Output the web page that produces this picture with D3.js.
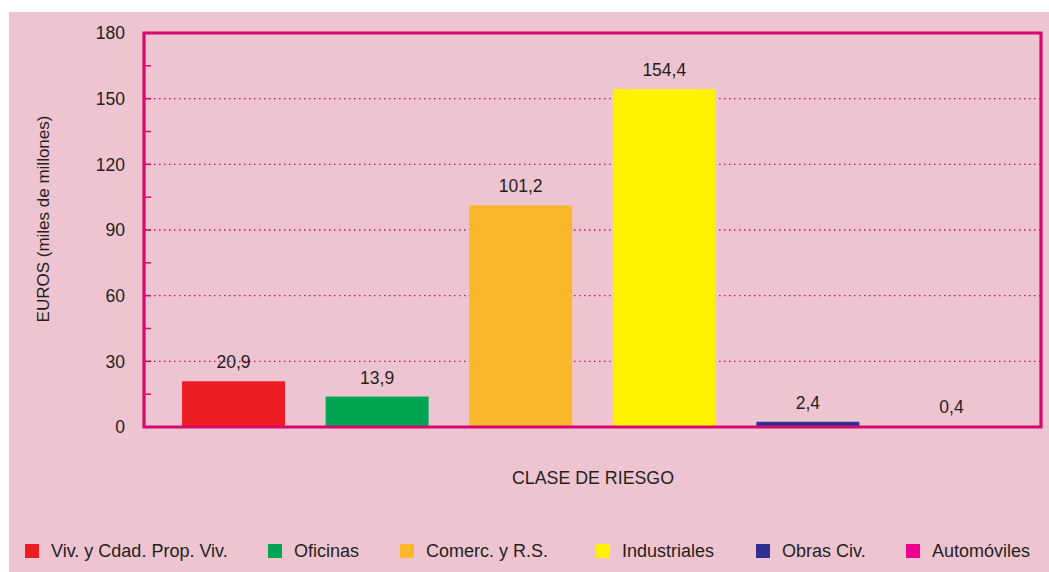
<!DOCTYPE html>
<html><head><meta charset="utf-8">
<script src="https://cdn.jsdelivr.net/npm/d3@7"></script>
<style>
html,body{margin:0;padding:0;background:#fff;}
svg{display:block;}
text{font-family:"Liberation Sans",Arial,Helvetica,sans-serif;fill:#231f20;}
</style></head>
<body>
<script>
const categories = ["Viv. y Cdad. Prop. Viv.", "Oficinas", "Comerc. y R.S.", "Industriales", "Obras Civ.", "Automóviles"];
const values = [20.9, 13.9, 101.2, 154.4, 2.4, 0.4];
const valueLabels = ["20,9", "13,9", "101,2", "154,4", "2,4", "0,4"];
const colors = ["#ee1c25", "#00a551", "#fbb72c", "#fff200", "#2e3192", "#ec008c"];
const yTicks = [0, 30, 60, 90, 120, 150, 180];
const yMinorTicks = [15, 45, 75, 105, 135, 165];

(function () {
const W = 1049, H = 572;
const svg = d3.select("body").append("svg").attr("width", W).attr("height", H);
svg.append("rect").attr("x", 9).attr("y", 12).attr("width", W - 9).attr("height", H - 12).attr("fill", "#eec4d0");

const pL = 144, pR = 1041, pT = 33, pB = 427;
const axisColor = "#d4096f";

const x = d3.scaleBand().domain(categories).range([pL, pR]).paddingInner(0.283).paddingOuter(0.265);
const y = d3.scaleLinear().domain([0, 180]).range([pB, pT]);

// gridlines
svg.append("g").selectAll("line").data(yTicks.filter(d => d > 0 && d < 180)).join("line")
  .attr("x1", pL).attr("x2", pR).attr("y1", d => y(d)).attr("y2", d => y(d))
  .attr("stroke", axisColor).attr("stroke-width", 1.3).attr("stroke-dasharray", "1.5,3.5");

// bars
svg.append("g").selectAll("rect").data(values).join("rect")
  .attr("x", (d, i) => x(categories[i])).attr("width", x.bandwidth())
  .attr("y", d => y(d)).attr("height", d => pB - y(d))
  .attr("fill", (d, i) => colors[i]);

// value labels
svg.append("g").selectAll("text").data(values).join("text")
  .attr("x", (d, i) => x(categories[i]) + x.bandwidth() / 2)
  .attr("y", d => y(d) - 13)
  .attr("text-anchor", "middle").attr("font-size", 17.5)
  .text((d, i) => valueLabels[i]);

// frame
svg.append("path")
  .attr("d", `M${pL},${pT}H${pR}V${pB}H${pL}Z`)
  .attr("fill", "none").attr("stroke", axisColor).attr("stroke-width", 3.2);

// minor ticks
svg.append("g").selectAll("line").data(yMinorTicks.concat(yTicks.filter(d => d > 0 && d < 180))).join("line")
  .attr("x1", pL).attr("x2", pL + 7).attr("y1", d => y(d)).attr("y2", d => y(d))
  .attr("stroke", axisColor).attr("stroke-width", 1.5);

// tick labels
svg.append("g").selectAll("text").data(yTicks).join("text")
  .attr("x", 125).attr("y", d => y(d)).attr("dy", "0.36em")
  .attr("text-anchor", "end").attr("font-size", 17.5).text(d => d);

// axis titles
svg.append("text").attr("transform", `translate(49,219) rotate(-90)`)
  .attr("text-anchor", "middle").attr("font-size", 17).text("EUROS (miles de millones)");
svg.append("text").attr("x", 593).attr("y", 484).attr("text-anchor", "middle")
  .attr("font-size", 17.8).text("CLASE DE RIESGO");

// legend
const legX = [25, 268, 400, 596, 756, 906];
const leg = svg.append("g").selectAll("g").data(categories).join("g")
  .attr("transform", (d, i) => `translate(${legX[i]},544)`);
leg.append("rect").attr("width", 14).attr("height", 14).attr("fill", (d, i) => colors[i]);
leg.append("text").attr("x", 26).attr("y", 7).attr("dy", "0.36em").attr("font-size", 18).text(d => d);
})();
</script>
</body></html>
